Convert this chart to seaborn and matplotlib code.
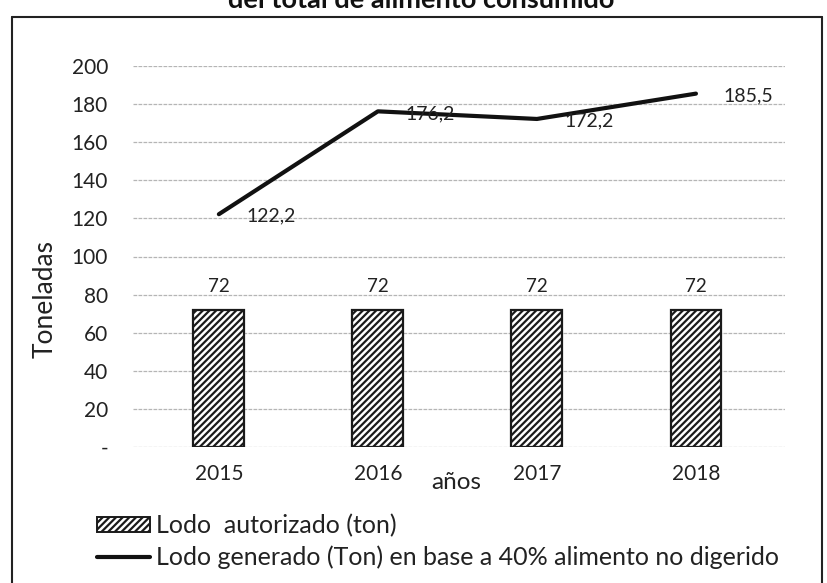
import matplotlib
matplotlib.use("Agg")
import matplotlib.pyplot as plt
import seaborn as sns
import pandas as pd
import numpy as np
from matplotlib.patches import Patch
from matplotlib.lines import Line2D
from matplotlib.transforms import blended_transform_factory

years = ["2015", "2016", "2017", "2018"]
lodo_autorizado = [72, 72, 72, 72]
lodo_generado = [122.2, 176.2, 172.2, 185.5]
bar_labels = ["72", "72", "72", "72"]
line_labels = ["122,2", "176,2", "172,2", "185,5"]
ytick_vals = [0, 20, 40, 60, 80, 100, 120, 140, 160, 180, 200]
ytick_labels = ["-", "20", "40", "60", "80", "100", "120", "140", "160", "180", "200"]

title = "del total de alimento consumido"
legend_bar = "Lodo  autorizado (ton)"
legend_line = "Lodo generado (Ton) en base a 40% alimento no digerido"

df = pd.DataFrame({"año": years, "autorizado": lodo_autorizado, "generado": lodo_generado})

sns.set_theme(style="white")
plt.rcParams["font.family"] = ["Lato", "DejaVu Sans"]
plt.rcParams["hatch.linewidth"] = 1.6
plt.rcParams["hatch.color"] = "#222222"

fig = plt.figure(figsize=(8.28, 5.83), dpi=100)
ax = fig.add_axes([133 / 828, 1 - 447 / 583, 652 / 828, 381 / 583])

sns.barplot(data=df, x="año", y="autorizado", ax=ax, color="white",
            edgecolor="#1a1a1a", linewidth=1.6, width=0.32, hatch="/////",
            zorder=3)
sns.lineplot(x=np.arange(len(years)), y=df["generado"], ax=ax, color="#111111",
             linewidth=3.0, zorder=4)

ax.set_xlim(-0.54, 3.56)
ax.set_ylim(0, 200)
ax.set_yticks(ytick_vals)
ax.set_yticklabels(ytick_labels)
ax.set_xticks(range(len(years)))
ax.set_xticklabels(years)
ax.tick_params(axis="y", length=0, pad=18, labelsize=15, labelcolor="#222222")
ax.tick_params(axis="x", length=0, pad=12, labelsize=15, labelcolor="#222222")
ax.set_xlabel("")
ax.set_ylabel("")
for s in ax.spines.values():
    s.set_visible(False)
ax.grid(axis="y", color="#b5b5b5", linewidth=0.9, linestyle=(0, (3, 1)), zorder=0)
ax.set_axisbelow(True)

for i, (v, lab) in enumerate(zip(lodo_autorizado, bar_labels)):
    ax.annotate(lab, (i, v), xytext=(0, 17), textcoords="offset points",
                ha="center", va="center", fontsize=13.5, color="#222222")
for i, (v, lab) in enumerate(zip(lodo_generado, line_labels)):
    ax.annotate(lab, (i, v), xytext=(20, -1.5), textcoords="offset points",
                ha="left", va="center", fontsize=14, color="#222222", zorder=5)

trans = blended_transform_factory(ax.transData, ax.transAxes)
ax.text(1.49, -0.092, "años", transform=trans, ha="center", va="center",
        fontsize=17.5, color="#222222")

fig.text(45 / 828, 1 - 299 / 583, "Toneladas", rotation=90, ha="center",
         va="center", fontsize=19, color="#222222")

fig.text(421 / 828, 1 - 8 / 583, title, ha="center", va="baseline", fontsize=19.5,
         fontweight="bold", color="#111111")

# outer frame
fig.add_artist(Line2D([12 / 828, 822 / 828], [1 - 17 / 583, 1 - 17 / 583],
                      color="#222222", linewidth=1.5, transform=fig.transFigure))
fig.add_artist(Line2D([12 / 828, 12 / 828], [1 - 17 / 583, 0],
                      color="#222222", linewidth=1.5, transform=fig.transFigure))
fig.add_artist(Line2D([822 / 828, 822 / 828], [1 - 17 / 583, 0],
                      color="#222222", linewidth=1.5, transform=fig.transFigure))

handles = [Patch(facecolor="white", edgecolor="#1a1a1a", hatch="/////", linewidth=1.4),
           Line2D([0], [0], color="#111111", linewidth=3.0)]
fig.legend(handles, [legend_bar, legend_line], loc="upper left",
           bbox_to_anchor=(97 / 828, 1 - 514 / 583), frameon=False,
           fontsize=18, handlelength=2.1, handletextpad=0.24, handleheight=0.6,
           labelspacing=0.32, borderaxespad=0, borderpad=0, labelcolor="#222222")

fig.savefig("out.png", dpi=100)
